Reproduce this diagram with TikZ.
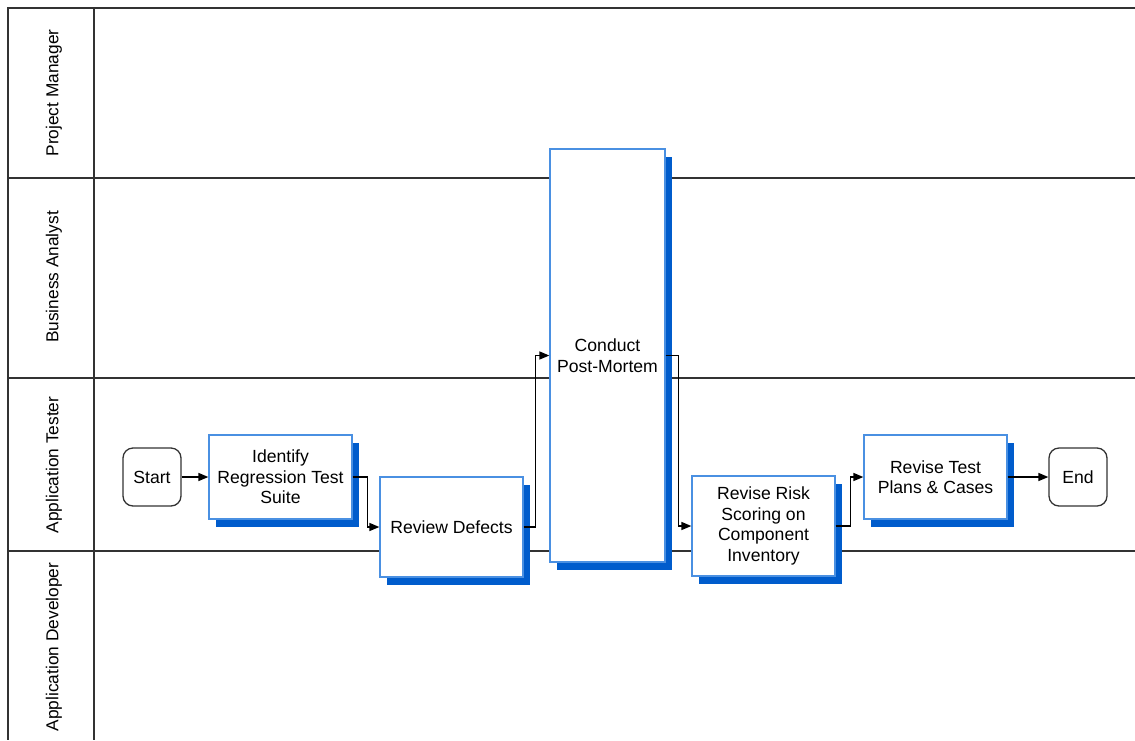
\documentclass[tikz,border=0pt]{standalone}
\usepackage{fontspec}
\setmainfont{Liberation Sans}
\usetikzlibrary{arrows.meta,shadows}
\definecolor{boxblue}{RGB}{74,144,226}
\definecolor{shadblue}{RGB}{0,92,204}
\definecolor{lanegray}{RGB}{50,50,50}
\tikzset{
  lane/.style={draw=lanegray,line width=1.4pt},
  task/.style={draw=boxblue,line width=1.3pt,fill=white,align=center,inner sep=2pt,
    font=\fontsize{17.6}{20.5}\selectfont,
    drop shadow={shadow xshift=7pt,shadow yshift=-8pt,fill=shadblue,opacity=1}},
  term/.style={draw=black!80,line width=1.3pt,fill=white,rounded corners=10pt,
    minimum width=58pt,minimum height=58pt,font=\fontsize{17.6}{20.5}\selectfont},
  lanelabel/.style={rotate=90,font=\fontsize{17.3}{20}\selectfont},
  arr/.style={line width=1.5pt,-{Triangle[length=10pt,width=8pt]}}
}
\begin{document}
\begin{tikzpicture}[x=1pt,y=-1pt]
\useasboundingbox (0,0) rectangle (1135,740);
% lanes
\draw[lane] (1135,8) -- (8,8) -- (8,740);
\draw[lane] (94,8) -- (94,740);
\draw[lane] (8,178) -- (1135,178);
\draw[lane] (8,378) -- (1135,378);
\draw[lane] (8,551) -- (1135,551);
\node[lanelabel] (lpm) at (54,93) {Project Manager};
\node[lanelabel] (lba) at (54,277) {Business Analyst};
\node[lanelabel] (lat) at (54,465) {Application Tester};
\node[lanelabel] (lad) at (54,647) {Application Developer};
% nodes
\node[term] (start) at (152,477) {Start};
\node[task,minimum width=143pt,minimum height=84pt] (ident) at (280.5,477) {Identify\\Regression Test\\Suite};
\node[task,minimum width=143pt,minimum height=100pt] (review) at (451.5,527) {Review Defects};
\node[task,minimum width=115pt,minimum height=413pt] (conduct) at (607.5,355.5) {Conduct\\Post-Mortem};
\node[task,minimum width=143pt,minimum height=100pt] (risk) at (763.5,526) {Revise Risk\\Scoring on\\Component\\Inventory};
\node[task,minimum width=143pt,minimum height=84pt] (revtest) at (935.5,477) {Revise Test\\Plans \& Cases};
\node[term] (end) at (1078,477) {End};
% connectors
\draw[arr] (start.east) -- (ident.west);
\draw[arr] (ident.east) -- ++(15,0) |- (review.west);
\draw[arr] (review.east) -- ++(12,0) |- (conduct.west);
\draw[arr] (conduct.east) -- ++(13,0) |- (risk.west);
\draw[arr] (risk.east) -- ++(15,0) |- (revtest.west);
\draw[arr] (revtest.east) -- (end.west);
\end{tikzpicture}
\end{document}
